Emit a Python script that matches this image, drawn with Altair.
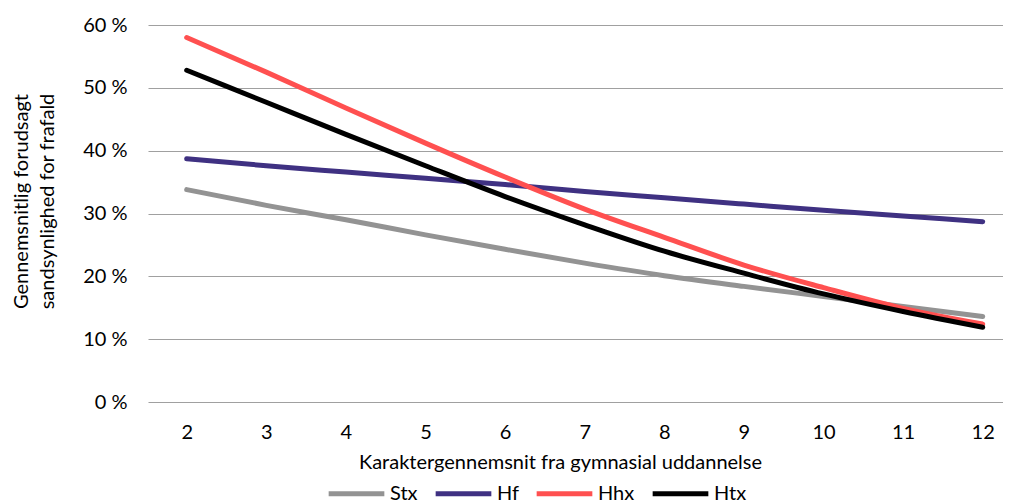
import altair as alt
import pandas as pd

grades = [2, 3, 4, 5, 6, 7, 8, 9, 10, 11, 12]
stx = [33.8, 31.3, 29.0, 26.6, 24.3, 22.1, 20.1, 18.4, 16.8, 15.2, 13.6]
hf = [38.7, 37.6, 36.6, 35.6, 34.6, 33.5, 32.5, 31.5, 30.5, 29.6, 28.7]
hhx = [58.0, 52.5, 46.8, 41.2, 35.8, 30.7, 26.2, 21.8, 18.2, 14.9, 12.4]
htx = [52.8, 47.7, 42.6, 37.6, 32.7, 28.2, 24.0, 20.5, 17.2, 14.4, 11.9]

series = ["Stx", "Hf", "Hhx", "Htx"]
colors = ["#939393", "#3F3182", "#FF5050", "#000000"]

rows = []
for name, vals in zip(series, [stx, hf, hhx, htx]):
    for g, v in zip(grades, vals):
        rows.append({"grade": g, "value": v, "type": name})
df = pd.DataFrame(rows)

FONT = "Lato"
FS = 20

chart = alt.Chart(df).mark_line(
    strokeWidth=5, strokeCap="round", strokeJoin="round", interpolate="monotone"
).encode(
    x=alt.X(
        "grade:Q",
        scale=alt.Scale(domain=[1.514, 12.255], nice=False, zero=False),
        axis=alt.Axis(
            values=grades,
            title="Karaktergennemsnit fra gymnasial uddannelse",
            grid=False,
            ticks=False,
            domain=False,
            labelFont=FONT,
            labelFontSize=FS,
            labelColor="#000000",
            labelBaseline="alphabetic",
            labelPadding=36,
            labelFlush=False,
            titleFont=FONT,
            titleFontSize=FS,
            titleFontWeight="normal",
            titleColor="#000000",
            titleBaseline="alphabetic",
            titleAlign="center",
            titleX=412,
            titleY=66,
        ),
    ),
    y=alt.Y(
        "value:Q",
        scale=alt.Scale(domain=[0, 60], nice=False),
        axis=alt.Axis(
            values=[0, 10, 20, 30, 40, 50, 60],
            labelExpr="datum.value + ' %'",
            title=["Gennemsnitlig forudsagt", "sandsynlighed for frafald"],
            grid=True,
            gridColor="#A0A0A0",
            gridWidth=1.2,
            ticks=False,
            domain=False,
            labelFont=FONT,
            labelFontSize=FS,
            labelColor="#000000",
            labelPadding=21,
            titleFont=FONT,
            titleFontSize=FS,
            titleFontWeight="normal",
            titleColor="#000000",
            titleAngle=270,
            titleAlign="center",
            titleBaseline="top",
            titleLineHeight=26,
            titleX=-137,
            titleY=176,
        ),
    ),
    color=alt.Color(
        "type:N",
        scale=alt.Scale(domain=series, range=colors),
        legend=alt.Legend(
            title=None,
            orient="none",
            direction="horizontal",
            legendX=178,
            legendY=438,
            symbolType="stroke",
            symbolStrokeWidth=5,
            symbolSize=3100,
            labelFont=FONT,
            labelFontSize=FS,
            labelColor="#000000",
            labelOffset=3,
            columnPadding=7,
        ),
    ),
).properties(
    width=855,
    height=377,
    autosize=alt.AutoSizeParams(type="none"),
    padding={"left": 140, "top": 17, "right": 0, "bottom": 102},
).configure_view(stroke=None).configure_legend(symbolStrokeColor=None)

chart.save("out.html", embed_options={"renderer": "svg", "actions": False})
